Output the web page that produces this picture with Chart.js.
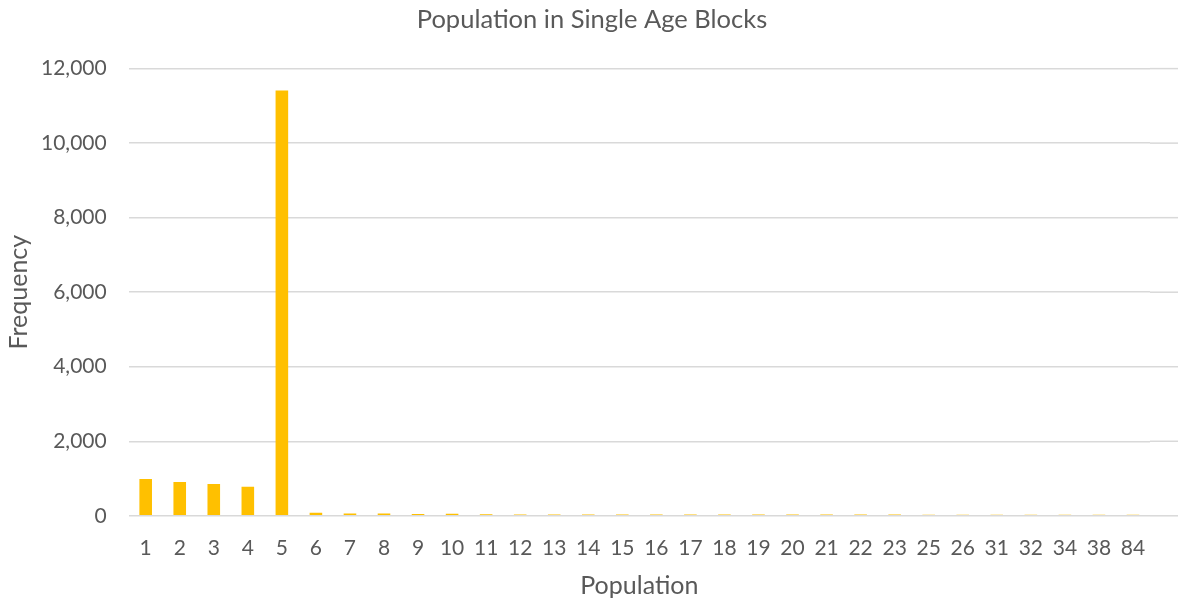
<!DOCTYPE html>
<html>
<head>
<meta charset="utf-8">
<script src="https://cdn.jsdelivr.net/npm/chart.js@4.4.1/dist/chart.umd.min.js"></script>
<style>
  html, body { margin: 0; padding: 0; background: #fff; }
  #wrap { width: 1178px; height: 598px; }
</style>
</head>
<body>
<div id="wrap"><canvas id="chart"></canvas></div>
<script>
// Block population sizes (x axis categories)
const populations = ['1', '2', '3', '4', '5', '6', '7', '8', '9', '10', '11', '12', '13', '14', '15',
  '16', '17', '18', '19', '20', '21', '22', '23', '25', '26', '31', '32', '34', '38', '84'];

// Number of blocks for each population size
const frequencies = [990, 905, 850, 780, 11410, 85, 65, 65, 50, 55, 40, 38, 37, 36, 35,
  35, 34, 34, 33, 33, 32, 32, 32, 31, 31, 30, 30, 30, 30, 30];

const yTicks = [0, 2000, 4000, 6000, 8000, 10000, 12000];

const textColor = '#595959';
const gridColor = '#d9d9d9';
const fontFamily = 'Lato, "Open Sans", sans-serif';

// the gridlines run on to the right edge of the picture, past the last category
const gridToEdge = {
  id: 'gridToEdge',
  beforeDatasetsDraw(chart) {
    const { ctx, chartArea, scales: { y } } = chart;
    ctx.save();
    ctx.strokeStyle = gridColor;
    ctx.lineWidth = 1.5;
    y.ticks.forEach(t => {
      const py = y.getPixelForValue(t.value);
      ctx.beginPath();
      ctx.moveTo(chartArea.right, py);
      ctx.lineTo(chart.width, py);
      ctx.stroke();
    });
    ctx.restore();
  }
};

new Chart(document.getElementById('chart'), {
  type: 'bar',
  data: {
    labels: populations,
    datasets: [{
      label: 'Frequency',
      data: frequencies,
      backgroundColor: '#FFC000',
      barPercentage: 0.37,
      categoryPercentage: 1.0
    }]
  },
  plugins: [gridToEdge],
  options: {
    responsive: true,
    maintainAspectRatio: false,
    animation: false,
    layout: { padding: { left: 6, right: 0, top: 4, bottom: 0 } },
    plugins: {
      legend: { display: false },
      tooltip: { enabled: false },
      title: {
        display: true,
        text: 'Population in Single Age Blocks',
        color: textColor,
        font: { family: fontFamily, size: 25.5, weight: 'normal', lineHeight: 1.2 },
        padding: { top: 0, bottom: 34 }
      }
    },
    scales: {
      x: {
        grid: { display: false, drawTicks: false },
        border: { display: false },
        ticks: {
          color: textColor,
          font: { family: fontFamily, size: 21 },
          maxRotation: 0,
          autoSkip: false,
          padding: 20
        },
        title: {
          display: true,
          text: 'Population',
          color: textColor,
          font: { family: fontFamily, size: 25, lineHeight: 1.0 },
          padding: { top: -8, bottom: 0 }
        }
      },
      y: {
        min: 0,
        max: 12000,
        afterBuildTicks: axis => {
          axis.ticks = yTicks.map(v => ({ value: v }));
        },
        grid: { color: gridColor, lineWidth: 1.5, drawTicks: false },
        border: { display: false },
        ticks: {
          color: textColor,
          font: { family: fontFamily, size: 21 },
          padding: 22,
          callback: v => v.toLocaleString('en-US')
        },
        title: {
          display: true,
          text: 'Frequency',
          color: textColor,
          font: { family: fontFamily, size: 25, lineHeight: 1.0 },
          padding: { top: 0, bottom: -12 }
        }
      },
      // empty right-hand strip, keeps the title centred on the whole picture
      yRight: {
        position: 'right',
        grid: { display: false, drawTicks: false },
        border: { display: false },
        ticks: { display: false },
        afterFit: scale => { scale.width = 28; }
      }
    }
  }
});
</script>
</body>
</html>
